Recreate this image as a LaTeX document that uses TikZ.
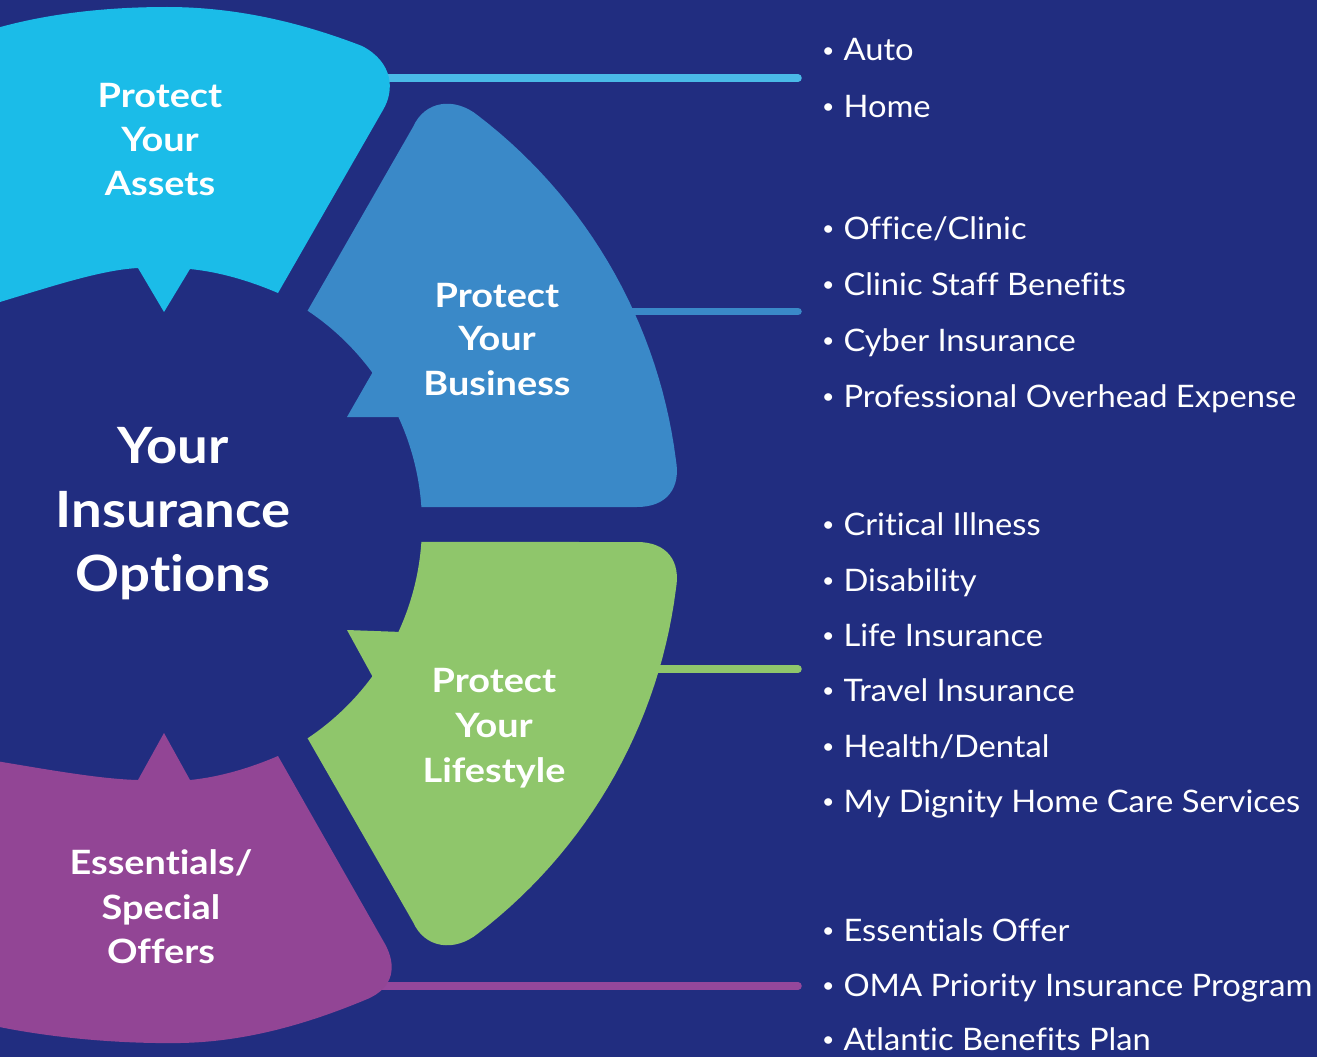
\documentclass[tikz,border=0pt]{standalone}
\usepackage{fontspec}
\setmainfont{Lato}[Ligatures=NoCommon, FakeStretch=1.055]
\newfontfamily\lblfont{Lato}[Ligatures=NoCommon, FakeStretch=1.13]
\newfontfamily\ctrfont{Lato}[Ligatures=NoCommon, FakeStretch=1.09]
\definecolor{bgnavy}{HTML}{212D80}
\definecolor{cyanF}{HTML}{1BBCE8}
\definecolor{blueF}{HTML}{3A89C8}
\definecolor{greenF}{HTML}{8FC66B}
\definecolor{purpF}{HTML}{924595}
\definecolor{cyanL}{HTML}{4ABAE8}
\definecolor{purpL}{HTML}{95479B}
\begin{document}
\begin{tikzpicture}[x=1pt,y=-1pt,
  lbl/.style={text=white,font=\lblfont\bfseries\fontsize{33.5}{40}\selectfont,inner sep=0pt,anchor=base},
  ctr/.style={text=white,font=\ctrfont\bfseries\fontsize{50}{60}\selectfont,inner sep=0pt,anchor=base},
  item/.style={text=white,font=\fontsize{31}{36}\selectfont,inner sep=0pt,anchor=base west},
  conn/.style={line width=7.5pt,line cap=round}]
\useasboundingbox (0,0) rectangle (1317,1057);
\fill[bgnavy] (0,0) rectangle (1317,1057);
\clip (0,0) rectangle (1317,1057);

% connector end points
\coordinate (sA) at (385,78);   \coordinate (eA) at (798,78);
\coordinate (sB) at (625,311.5); \coordinate (eB) at (798,311.5);
\coordinate (sL) at (650,669);  \coordinate (eL) at (798,669);
\coordinate (sO) at (380,986);  \coordinate (eO) at (798,986);
\draw[conn,cyanL] (sA) -- (eA);
\draw[conn,blueF] (sB) -- (eB);
\draw[conn,greenF] (sL) -- (eL);
\draw[conn,purpL] (sO) -- (eO);

% Protect Your Assets (cyan)
\fill[cyanF] (-10,305) .. controls (50,287) and (100,270) .. (138,268) -- (164,312) -- (190,269)
  .. controls (220,272) and (250,281) .. (278,293) -- (383,110)
  .. controls (395,90) and (393,62) .. (362,46)
  .. controls (300,22) and (235,7) .. (167,7)
  .. controls (100,7) and (40,15) .. (-10,30) -- cycle;

% Protect Your Business (blue)
\fill[blueF] (308,310)
  -- plot[domain=-56.3:-36.2,samples=16] ({165+257*cos(\x)},{524.5+257*sin(\x)})
  -- (347,417)
  -- plot[domain=-24.7:-3.9,samples=16] ({165+257*cos(\x)},{524.5+257*sin(\x)})
  -- (637,507) .. controls (667,507) and (681,488) .. (675.9,460)
  -- plot[domain=-7.2:-52.6,samples=30] ({165+515*cos(\x)},{524.5+515*sin(\x)})
  .. controls (455,97) and (425,100) .. (413,127) -- cycle;

% Protect Your Lifestyle (green)
\fill[greenF] (308,739)
  -- plot[domain=56.3:36.2,samples=16] ({165+257*cos(\x)},{524.5+257*sin(\x)})
  -- (347,630)
  -- plot[domain=24.7:3.9,samples=16] ({165+257*cos(\x)},{524.5+257*sin(\x)})
  -- (637,542) .. controls (667,542) and (681,561) .. (675.9,589)
  -- plot[domain=7.2:52.6,samples=30] ({165+515*cos(\x)},{524.5+515*sin(\x)})
  .. controls (455,952) and (425,949) .. (413,922) -- cycle;

% Essentials / Special Offers (purple)
\fill[purpF] (-10,760) .. controls (50,770) and (100,779) .. (138,780) -- (164,733) -- (190,780)
  .. controls (220,777) and (250,768) .. (278,756) -- (385,944)
  .. controls (396,964) and (396,988) .. (365,1000)
  .. controls (300,1027) and (240,1042) .. (180,1043)
  .. controls (110,1044) and (40,1036) .. (-10,1025) -- cycle;

% petal labels
\node[lbl] (a1) at (160,107) {Protect};
\node[lbl] (a2) at (160,151) {Your};
\node[lbl] (a3) at (160,195) {Assets};
\node[lbl] (b1) at (497,307) {Protect};
\node[lbl] (b2) at (497,350) {Your};
\node[lbl] (b3) at (497,395) {Business};
\node[lbl] (g1) at (494,692) {Protect};
\node[lbl] (g2) at (494,737) {Your};
\node[lbl] (g3) at (494,782) {Lifestyle};
\node[lbl] (p1) at (161,874) {Essentials/};
\node[lbl] (p2) at (161,919) {Special};
\node[lbl] (p3) at (161,963) {Offers};

% centre
\node[ctr] (c1) at (173,463) {Your};
\node[ctr] (c2) at (173,527) {Insurance};
\node[ctr] (c3) at (173,591) {Options};

% lists
\newcommand{\bul}{\raisebox{3.5pt}{\scalebox{0.65}{•}}\hspace{9pt}}
\node[item] (l1) at (822,61) {\bul Auto};
\node[item] (l2) at (822,117) {\bul Home};
\node[item] (l3) at (822,239) {\bul Office/Clinic};
\node[item] (l4) at (822,295) {\bul Clinic Staff Benefits};
\node[item] (l5) at (822,351) {\bul Cyber Insurance};
\node[item] (l6) at (822,407) {\bul Professional Overhead Expense};
\node[item] (l7) at (822,535) {\bul Critical Illness};
\node[item] (l8) at (822,591) {\bul Disability};
\node[item] (l9) at (822,646) {\bul Life Insurance};
\node[item] (l10) at (822,701) {\bul Travel Insurance};
\node[item] (l11) at (822,757) {\bul Health/Dental};
\node[item] (l12) at (822,812) {\bul My Dignity Home Care Services};
\node[item] (l13) at (822,941) {\bul Essentials Offer};
\node[item] (l14) at (822,996) {\bul OMA Priority Insurance Program};
\node[item] (l15) at (822,1050) {\bul Atlantic Benefits Plan};
\end{tikzpicture}
\end{document}
